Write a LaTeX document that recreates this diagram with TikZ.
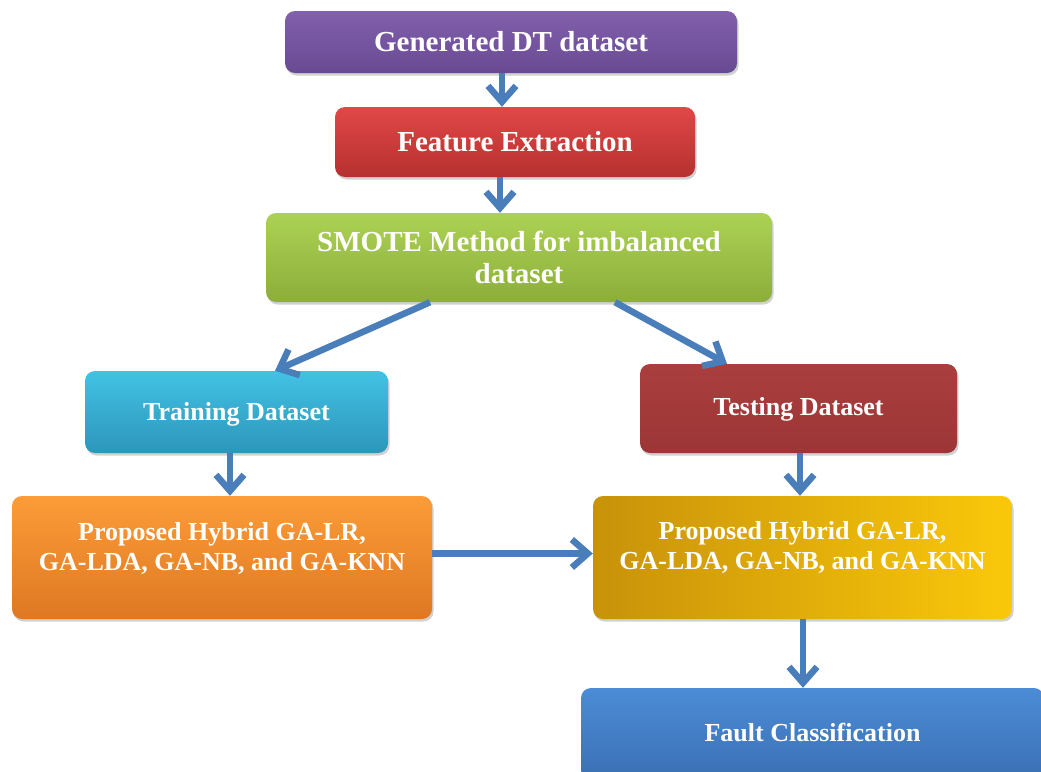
\documentclass[tikz,border=0pt]{standalone}
\usepackage{fontspec}
\setmainfont{Liberation Serif}
\usetikzlibrary{arrows.meta,shadows,calc}
\definecolor{arr}{HTML}{4A7EBB}
\definecolor{purT}{RGB}{130,96,172}\definecolor{purB}{RGB}{104,74,146}
\definecolor{redT}{RGB}{224,72,70}\definecolor{redB}{RGB}{182,48,48}
\definecolor{grnT}{RGB}{172,210,84}\definecolor{grnB}{RGB}{140,174,58}
\definecolor{cyaT}{RGB}{66,194,228}\definecolor{cyaB}{RGB}{44,150,186}
\definecolor{drdT}{RGB}{170,62,62}\definecolor{drdB}{RGB}{156,54,54}
\definecolor{orgT}{RGB}{252,156,56}\definecolor{orgB}{RGB}{222,120,34}
\definecolor{gldL}{RGB}{200,146,10}\definecolor{gldR}{RGB}{250,200,10}
\definecolor{bluT}{RGB}{76,140,214}\definecolor{bluB}{RGB}{58,112,180}
\tikzset{
  box/.style={rounded corners=10pt, draw=none, inner sep=0pt,
    drop shadow={shadow xshift=1.5pt, shadow yshift=-2.5pt, opacity=0.3, fill=black!60}},
  txt/.style={text=white, align=center, inner sep=0pt},
  big/.style={font=\fontsize{29}{32}\selectfont\bfseries},
  small/.style={font=\fontsize{26}{30}\selectfont\bfseries},
  conn/.style={draw=arr, line width=6.5pt, -{Straight Barb[length=16pt,width=28pt]}}
}
\begin{document}
\begin{tikzpicture}[x=1pt,y=-1pt]
\useasboundingbox (0,0) rectangle (1041,771);
\clip (0,0) rectangle (1041,771);
% boxes
\node[box, top color=purT, bottom color=purB, minimum width=452pt, minimum height=62pt] (g) at (511,42) {};
\node[txt, big] (gt) at (g.center) {Generated DT dataset};

\node[box, top color=redT, bottom color=redB, minimum width=360pt, minimum height=70pt] (f) at (515,142) {};
\node[txt, big] (ft) at (f.center) {Feature Extraction};

\node[box, top color=grnT, bottom color=grnB, minimum width=506pt, minimum height=89pt] (s) at (519,257.5) {};
\node[txt, big] (st) at (s.center) {SMOTE Method for imbalanced\\dataset};

\node[box, top color=cyaT, bottom color=cyaB, minimum width=303pt, minimum height=82pt] (tr) at (236.5,412) {};
\node[txt, small] (trt) at ([yshift=-2pt]tr.center) {Training Dataset};

\node[box, top color=drdT, bottom color=drdB, minimum width=317pt, minimum height=89pt] (te) at (798.5,408.5) {};
\node[txt, small] (tet) at ([yshift=-1pt]te.center) {Testing Dataset};

\node[box, top color=orgT, bottom color=orgB, minimum width=420pt, minimum height=123pt] (pl) at (222,557.5) {};
\node[txt, small] (plt) at ([yshift=9pt]pl.center) {Proposed Hybrid GA-LR,\\GA-LDA, GA-NB, and GA-KNN};

\node[box, left color=gldL, right color=gldR, minimum width=419pt, minimum height=123pt] (pr) at (802.5,557.5) {};
\node[txt, small] (prt) at ([yshift=10pt]pr.center) {Proposed Hybrid GA-LR,\\GA-LDA, GA-NB, and GA-KNN};

\node[box, top color=bluT, bottom color=bluB, minimum width=463pt, minimum height=92pt] (fc) at (812.5,734) {};
\node[txt, small] (fct) at ([yshift=2pt]fc.center) {Fault Classification};

% connectors
\draw[conn] ([xshift=-9pt]g.south) -- ([xshift=-13pt]f.north);
\draw[conn] ([xshift=-15pt]f.south) -- ([xshift=-19pt]s.north);
\draw[conn] ([xshift=-89pt]s.south) -- ([xshift=38.5pt]tr.north);
\draw[conn] ([xshift=96pt]s.south) -- ([xshift=-71.5pt]te.north);
\draw[conn] ([xshift=-6.5pt]tr.south) -- ([xshift=8pt]pl.north);
\draw[conn] ([xshift=1.5pt]te.south) -- ([xshift=-2.5pt]pr.north);
\draw[conn] ([yshift=4pt]pl.east) -- ([yshift=4pt]pr.west);
\draw[conn] ([xshift=0.5pt]pr.south) -- ([xshift=-9.5pt]fc.north);
\end{tikzpicture}
\end{document}
